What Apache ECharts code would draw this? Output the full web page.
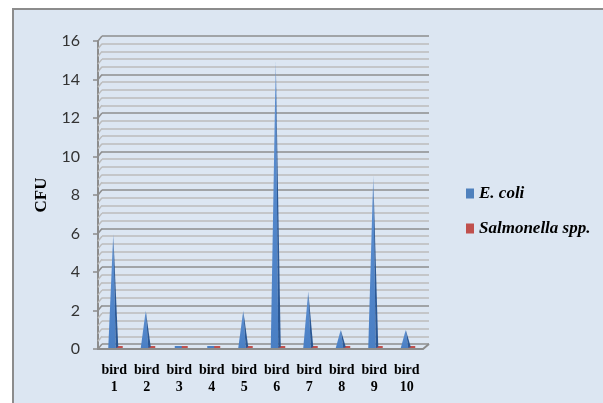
<!DOCTYPE html>
<html>
<head>
<meta charset="utf-8">
<script src="https://cdn.jsdelivr.net/npm/echarts@6/dist/echarts.min.js"></script>
<style>
  html, body { margin: 0; padding: 0; background: #ffffff; }
  #frame { position: absolute; left: 12px; top: 8px; width: 700px; height: 500px;
           border-left: 2px solid #8c8c8c; border-top: 2px solid #8c8c8c; background: #dce6f2; }
  #chart { position: absolute; left: 0; top: 0; width: 603px; height: 403px; }
</style>
</head>
<body>
<div id="frame"></div>
<div id="chart"></div>
<script>
// ---- data ----
var categories = ['bird 1', 'bird 2', 'bird 3', 'bird 4', 'bird 5', 'bird 6', 'bird 7', 'bird 8', 'bird 9', 'bird 10'];
var ecoli = [6, 2, 0, 0, 2, 15, 3, 1, 9, 1];
var salmonella = [0, 0, 0, 0, 0, 0, 0, 0, 0, 0];
var yTicks = { min: 0, max: 16, interval: 2 };

var chart = echarts.init(document.getElementById('chart'), null, { renderer: 'canvas' });

function pyramidRenderer(colorLight, colorDark, shift, width) {
  return function (params, api) {
    var v = api.value(1);
    var base = api.coord([api.value(0), 0]);
    var top = api.coord([api.value(0), v]);
    var cx = base[0] + shift;
    var y0 = base[1] - 1;
    if (v === 0) {
      return {
        type: 'rect',
        shape: { x: cx - 3.5, y: y0 - 2, width: 7, height: 2 },
        style: { fill: colorLight }
      };
    }
    var w = width;
    return {
      type: 'group',
      children: [
        { type: 'polygon', shape: { points: [[cx - w / 2, y0], [cx + w / 4, y0], [cx, top[1]]] },
          style: { fill: new echarts.graphic.LinearGradient(0, 0, 0, 1, [
            { offset: 0, color: '#a9c4e8' }, { offset: 0.12, color: '#5a8dcf' }, { offset: 1, color: '#4a7fc4' }]) } },
        { type: 'polygon', shape: { points: [[cx + w / 4, y0], [cx + w / 2, y0 - 1], [cx, top[1]]] },
          style: { fill: colorDark } }
      ]
    };
  };
}

function flatRenderer(color, shift) {
  return function (params, api) {
    var base = api.coord([api.value(0), api.value(1)]);
    return { type: 'rect', shape: { x: base[0] + shift - 3.5, y: base[1] - 3, width: 7, height: 2 },
             style: { fill: color } };
  };
}

var frameData = [[0, 0]];

var option = {
  animation: false,
  backgroundColor: 'transparent',
  grid: [
    { left: 98, top: 41, width: 325, height: 308 },   // front
    { left: 102, top: 36, width: 327, height: 308 }   // back wall
  ],
  xAxis: [
    { type: 'category', gridIndex: 0, data: categories,
      axisLine: { show: true, lineStyle: { color: '#8c8c8c', width: 2 } },
      axisTick: { show: false },
      axisLabel: { interval: 0, margin: 13, color: '#000', fontFamily: 'Liberation Serif', fontWeight: 'bold',
                   fontSize: 14, lineHeight: 17, formatter: function (v) { return v.replace(' ', '\n'); } } },
    { type: 'category', gridIndex: 1, data: categories, show: false }
  ],
  yAxis: [
    { type: 'value', gridIndex: 0, min: yTicks.min, max: yTicks.max, interval: yTicks.interval,
      name: 'CFU', nameLocation: 'middle', nameGap: 42, nameRotate: 90,
      nameTextStyle: { fontFamily: 'Liberation Serif', fontWeight: 'bold', fontSize: 17, color: '#000' },
      axisLine: { show: true, lineStyle: { color: '#8c8c8c', width: 2 } },
      axisTick: { show: true, length: 5, lineStyle: { color: '#8c8c8c', width: 1.5 } },
      axisLabel: { margin: 18, color: '#333333', fontFamily: 'Lato', fontSize: 16 },
      splitLine: { show: false } },
    { type: 'value', gridIndex: 1, min: yTicks.min, max: yTicks.max, interval: yTicks.interval,
      axisLine: { show: false }, axisTick: { show: false }, axisLabel: { show: false },
      minorTick: { show: false, splitNumber: 5 },
      splitLine: { show: true, lineStyle: { color: '#8e8e8e', width: 1.5 } },
      minorSplitLine: { show: true, lineStyle: { color: '#bcbcbc', width: 1.5 } } }
  ],
  legend: {
    orient: 'vertical', left: 461, top: 180, itemGap: 18,
    itemWidth: 8, itemHeight: 10, icon: 'rect',
    data: ['E. coli', 'Salmonella spp.'],
    textStyle: { fontFamily: 'Liberation Serif', fontWeight: 'bold', fontStyle: 'italic', fontSize: 17, color: '#000' }
  },
  series: [
    { name: 'frame', type: 'custom', xAxisIndex: 0, yAxisIndex: 0, silent: true, z: 1,
      data: frameData,
      renderItem: function (params, api) {
        var cs = params.coordSys;
        var children = [];
        for (var i = 0; i <= 40; i++) {
          var y = api.coord([0, i * 0.4])[1];
          children.push({ type: 'line', shape: { x1: cs.x, y1: y, x2: cs.x + 4, y2: y - 5 },
            style: { stroke: i % 5 === 0 ? '#8e8e8e' : '#bcbcbc', lineWidth: 1.5 } });
        }
        var yb = api.coord([0, 0])[1];
        children.push({ type: 'line', shape: { x1: cs.x + cs.width, y1: yb, x2: cs.x + cs.width + 6, y2: yb - 5 },
          style: { stroke: '#8c8c8c', lineWidth: 2 } });
        return { type: 'group', children: children };
      } },
    { name: 'E. coli', type: 'custom', xAxisIndex: 0, yAxisIndex: 0, z: 3,
      itemStyle: { color: '#4f81bd' },
      data: ecoli.map(function (v, i) { return [i, v]; }),
      renderItem: pyramidRenderer('#4a7fc4', '#2b5895', -1, 10) },
    { name: 'Salmonella spp.', type: 'custom', xAxisIndex: 0, yAxisIndex: 0, z: 2,
      itemStyle: { color: '#c0504d' },
      data: salmonella.map(function (v, i) { return [i, v]; }),
      renderItem: flatRenderer('#c0504d', 5) }
  ]
};
chart.setOption(option);
</script>
</body>
</html>
